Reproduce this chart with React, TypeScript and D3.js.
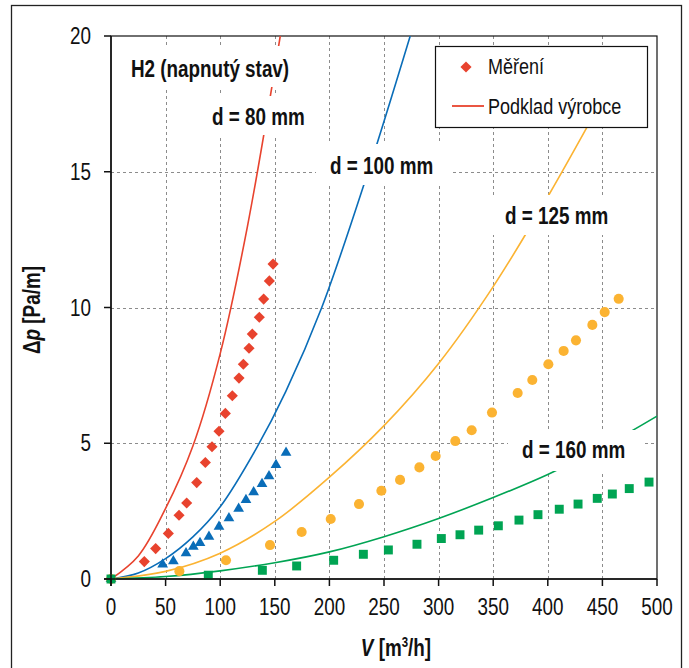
import React, { useEffect, useRef } from "react";
import * as d3 from "d3";

// x: flow V [m3/h], y: pressure drop dp [Pa/m]
const xTicks = [0, 50, 100, 150, 200, 250, 300, 350, 400, 450, 500];
const yTicks = [0, 5, 10, 15, 20];

// measured points (Měření)
const meas80: [number, number][] = [
  [0, 0], [30.5, 0.64], [40.9, 1.12], [52.5, 1.68], [62.3, 2.35], [69.3, 2.8], [78.5, 3.55],
  [86.4, 4.29], [92.5, 4.87], [98.9, 5.44], [104.7, 6.1], [111.1, 6.75], [117.2, 7.4],
  [121.2, 7.91], [126.4, 8.5], [129.4, 9.02], [135.8, 9.64], [139.8, 10.31], [145, 10.98], [148.4, 11.6],
];
const meas100: [number, number][] = [
  [0, 0], [47.3, 0.54], [57.1, 0.66], [68.7, 0.95], [75.4, 1.19], [81.5, 1.33], [89.7, 1.56],
  [98.9, 1.93], [108, 2.24], [116.9, 2.59], [123.6, 2.91], [130.6, 3.2], [138.3, 3.5],
  [144.7, 3.79], [151.1, 4.2], [160.3, 4.65],
];
const meas125: [number, number][] = [
  [0, 0], [62.6, 0.29], [105.3, 0.69], [145.6, 1.25], [174.6, 1.73], [201.2, 2.21], [227.1, 2.76],
  [247.6, 3.25], [264.7, 3.65], [282.4, 4.11], [297.3, 4.53], [315.3, 5.08], [330.3, 5.48],
  [348.9, 6.13], [372.4, 6.85], [385.8, 7.33], [400.5, 7.91], [414.5, 8.4], [425.8, 8.79],
  [440.8, 9.36], [452.1, 9.83], [464.9, 10.32],
];
const meas160: [number, number][] = [
  [0, 0], [89.1, 0.14], [138.6, 0.32], [170, 0.48], [203.9, 0.69], [231.1, 0.91], [254, 1.07],
  [280.2, 1.28], [302.5, 1.49], [319.6, 1.63], [336.7, 1.8], [354.7, 1.96], [373.6, 2.17],
  [391, 2.37], [410.5, 2.57], [427.7, 2.76], [445.3, 2.97], [459.1, 3.13], [474.6, 3.33], [492.7, 3.57],
];

// manufacturer data (Podklad výrobce)
const maker80: [number, number][] = [[0, 0], [25, 0.85], [50, 2.6], [75, 4.9], [100, 8.3], [125, 13.0], [155, 20]];
const maker100: [number, number][] = [
  [0, 0], [25, 0.22], [50, 0.75], [75, 1.55], [100, 2.66], [133, 4.8], [160, 6.9], [193, 10], [233, 14.7], [274, 20],
];
const maker125: [number, number][] = [
  [0, 0], [50, 0.28], [100, 0.95], [150, 2.12], [200, 3.75], [250, 5.65], [300, 7.94], [350, 10.77], [400, 14.08], [460, 18.4],
];
const maker160: [number, number][] = [
  [0, 0], [50, 0.09], [100, 0.3], [150, 0.6], [200, 1.0], [250, 1.56], [300, 2.23], [350, 3.0], [400, 3.85], [450, 4.85], [500, 6.0],
];

const RED = "#e8432e";
const BLUE = "#0a6db8";
const ORANGE = "#fbb332";
const GREEN = "#00a453";

const FONT = "'Liberation Sans', Arial, sans-serif";
const SQUEEZE = 0.82; // the original uses a narrow face

const series = [
  { meas: meas80, maker: maker80, color: RED, symbol: "diamond" },
  { meas: meas100, maker: maker100, color: BLUE, symbol: "triangle" },
  { meas: meas125, maker: maker125, color: ORANGE, symbol: "circle" },
  { meas: meas160, maker: maker160, color: GREEN, symbol: "square" },
];

// text boxes in the plot (white background hides lines behind)
const labels = [
  { text: "H2 (napnutý stav)", box: [122, 46, 180, 41], tx: 131, ty: 77 },
  { text: "d = 80 mm", box: [205, 96, 107, 39], tx: 212, ty: 125 },
  { text: "d = 100 mm", box: [316, 144, 136, 41], tx: 330, ty: 174 },
  { text: "d = 125 mm", box: [490, 195, 135, 40], tx: 505, ty: 224 },
  { text: "d = 160 mm", box: [508, 430, 137, 41], tx: 522, ty: 458 },
];

function symbolPath(kind: string) {
  if (kind === "diamond") return d3.symbol(d3.symbolSquare, 62)();
  if (kind === "triangle") return d3.symbol(d3.symbolTriangle, 50)();
  if (kind === "circle") return d3.symbol(d3.symbolCircle, 80)();
  return d3.symbol(d3.symbolSquare, 80)();
}

export default function App() {
  const ref = useRef<SVGSVGElement>(null);

  useEffect(() => {
    const svg = d3.select(ref.current);
    svg.selectAll("*").remove();

    const x = d3.scaleLinear().domain([0, 500]).range([111, 657]);
    const y = d3.scaleLinear().domain([0, 20]).range([579, 36]);

    // narrow text helper
    const txt = (parent: any, px: number, py: number, size: number, anchor = "start", bold = false, rot = 0) =>
      parent.append("text")
        .attr("transform", `translate(${px},${py})` + (rot ? ` rotate(${rot})` : "") + ` scale(${SQUEEZE},1)`)
        .attr("text-anchor", anchor)
        .attr("font-family", FONT).attr("font-size", size)
        .attr("font-weight", bold ? "bold" : "normal").attr("fill", "#111");

    // outer frame
    svg.append("rect").attr("x", 11.5).attr("y", 5.5).attr("width", 670).attr("height", 700)
      .attr("fill", "white").attr("stroke", "#222").attr("stroke-width", 1.3);

    svg.append("defs").append("clipPath").attr("id", "plotclip")
      .append("rect").attr("x", 111).attr("y", 36).attr("width", 546).attr("height", 543);

    // grid
    const grid = svg.append("g").attr("stroke", "#8c8c8c").attr("stroke-width", 1).attr("stroke-dasharray", "3,3");
    grid.selectAll("line.v").data(xTicks.slice(1, -1)).join("line")
      .attr("x1", (d) => Math.round(x(d)) + 0.5).attr("x2", (d) => Math.round(x(d)) + 0.5)
      .attr("y1", y(20)).attr("y2", y(0));
    grid.selectAll("line.h").data(yTicks.slice(1, -1)).join("line")
      .attr("y1", (d) => Math.round(y(d)) + 0.5).attr("y2", (d) => Math.round(y(d)) + 0.5)
      .attr("x1", x(0)).attr("x2", x(500));

    // plot border
    svg.append("rect").attr("x", x(0)).attr("y", y(20)).attr("width", x(500) - x(0)).attr("height", y(0) - y(20))
      .attr("fill", "none").attr("stroke", "#111").attr("stroke-width", 1.2);

    // manufacturer curves
    const line = d3.line<[number, number]>().x((d) => x(d[0])).y((d) => y(d[1])).curve(d3.curveCatmullRom.alpha(0.5));
    const curves = svg.append("g").attr("clip-path", "url(#plotclip)");
    series.forEach((s) => {
      curves.append("path").attr("d", line(s.maker)).attr("fill", "none")
        .attr("stroke", s.color).attr("stroke-width", 1.6);
    });

    // text boxes
    labels.forEach((l) => {
      svg.append("rect").attr("x", l.box[0]).attr("y", l.box[1]).attr("width", l.box[2]).attr("height", l.box[3])
        .attr("fill", "white");
      txt(svg, l.tx, l.ty, 23, "start", true).text(l.text);
    });

    // measured markers
    series.forEach((s) => {
      svg.append("g").selectAll("path").data(s.meas).join("path")
        .attr("d", symbolPath(s.symbol))
        .attr("transform", (d) => `translate(${x(d[0])},${y(d[1])})` + (s.symbol === "diamond" ? " rotate(45)" : ""))
        .attr("fill", s.color);
    });

    // axes
    const axes = svg.append("g").attr("stroke", "#111").attr("stroke-width", 1.5);
    axes.append("line").attr("x1", x(0)).attr("x2", x(0)).attr("y1", y(20)).attr("y2", y(0) + 7);
    axes.append("line").attr("x1", x(0) - 7).attr("x2", x(500)).attr("y1", y(0)).attr("y2", y(0));
    axes.selectAll("line.xt").data(xTicks).join("line")
      .attr("x1", (d) => x(d)).attr("x2", (d) => x(d)).attr("y1", y(0)).attr("y2", y(0) + 7);
    axes.selectAll("line.yt").data(yTicks).join("line")
      .attr("y1", (d) => y(d)).attr("y2", (d) => y(d)).attr("x1", x(0) - 7).attr("x2", x(0));

    const xl = svg.append("g");
    xTicks.forEach((t) => txt(xl, x(t), 615, 23, "middle").text(t));
    const yl = svg.append("g");
    yTicks.forEach((t) => txt(yl, 91, y(t) + 8, 23, "end").text(t));

    // axis titles
    const xt = txt(svg, 396, 656, 23, "middle", true);
    xt.append("tspan").attr("font-style", "italic").text("V");
    xt.append("tspan").text(" [m");
    xt.append("tspan").attr("font-size", 14).attr("dy", -9).text("3");
    xt.append("tspan").attr("dy", 9).text("/h]");

    const yt = txt(svg, 40, 310, 23, "middle", true, -90);
    yt.append("tspan").text("Δ");
    yt.append("tspan").attr("font-style", "italic").text("p");
    yt.append("tspan").text(" [Pa/m]");

    // legend
    const lg = svg.append("g");
    lg.append("rect").attr("x", 435.5).attr("y", 46.5).attr("width", 212).attr("height", 81)
      .attr("fill", "white").attr("stroke", "#111").attr("stroke-width", 1.2);
    lg.append("path").attr("d", symbolPath("diamond")).attr("transform", "translate(466,67) rotate(45)").attr("fill", RED);
    txt(lg, 488, 74, 22).text("Měření");
    lg.append("line").attr("x1", 452).attr("x2", 484).attr("y1", 106).attr("y2", 106).attr("stroke", RED).attr("stroke-width", 1.8);
    txt(lg, 488, 114, 22).text("Podklad výrobce");
  }, []);

  return (
    <svg ref={ref} width={689} height={668} style={{ position: "absolute", left: 0, top: 0, display: "block" }} />
  );
}
